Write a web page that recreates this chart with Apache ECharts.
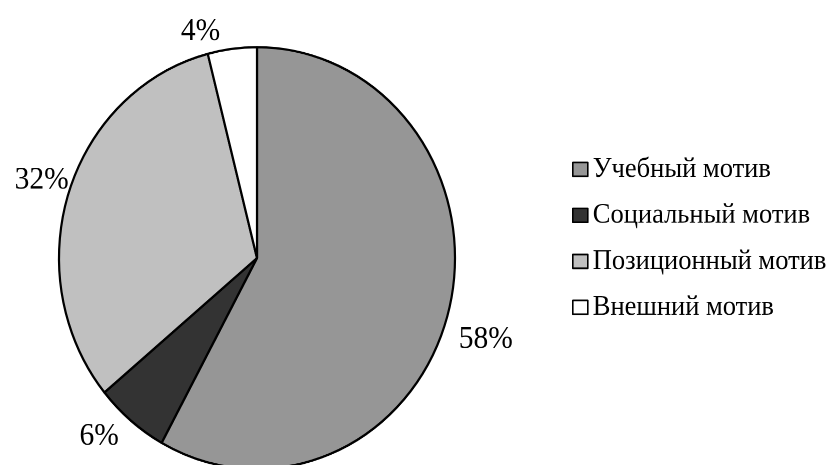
<!DOCTYPE html>
<html>
<head>
<meta charset="utf-8">
<script src="https://cdn.jsdelivr.net/npm/echarts@6/dist/echarts.min.js"></script>
<style>
html,body{margin:0;padding:0;background:#fff;overflow:hidden;width:829px;height:465px;}
#chart{width:829px;height:445px;transform:scaleY(1.065);transform-origin:0 0;}
</style>
</head>
<body>
<div id="chart"></div>
<script>
const categories = ['Учебный мотив', 'Социальный мотив', 'Позиционный мотив', 'Внешний мотив'];
const values = [58, 6, 32, 4];
const colors = ['#969696', '#333333', '#c0c0c0', '#ffffff'];
const labelOffsets = [[10, 27], [-12, 15], [0, -12], [-12, -16]];

const chart = echarts.init(document.getElementById('chart'), null, {renderer: 'canvas', devicePixelRatio: 2});
const font = 'Liberation Serif';
chart.setOption({
  animation: false,
  backgroundColor: '#fff',
  legend: {
    orient: 'vertical',
    left: 572,
    top: 144,
    padding: 0,
    icon: 'rect',
    itemWidth: 15,
    itemHeight: 13,
    itemGap: 13.2,
    selectedMode: false,
    itemStyle: {borderColor: '#000', borderWidth: 1.6},
    textStyle: {fontFamily: font, fontSize: 26.5, color: '#000', lineHeight: 30, padding: 0},
    data: categories
  },
  series: [{
    type: 'pie',
    center: [257, 242.3],
    radius: 198,
    startAngle: 90,
    clockwise: true,
    avoidLabelOverlap: false,
    itemStyle: {borderColor: '#000', borderWidth: 2.2},
    emphasis: {disabled: true},
    label: {
      show: true,
      position: 'outside',
      distanceToLabelLine: 0,
      formatter: '{c}%',
      fontFamily: font,
      fontSize: 29.5,
      color: '#000'
    },
    labelLine: {show: false, length: 0, length2: 0},
    labelLayout: function (params) {
      const o = labelOffsets[params.dataIndex];
      return {dx: o[0], dy: o[1]};
    },
    data: categories.map((c, i) => ({name: c, value: values[i], itemStyle: {color: colors[i]}}))
  }]
});
</script>
</body>
</html>
